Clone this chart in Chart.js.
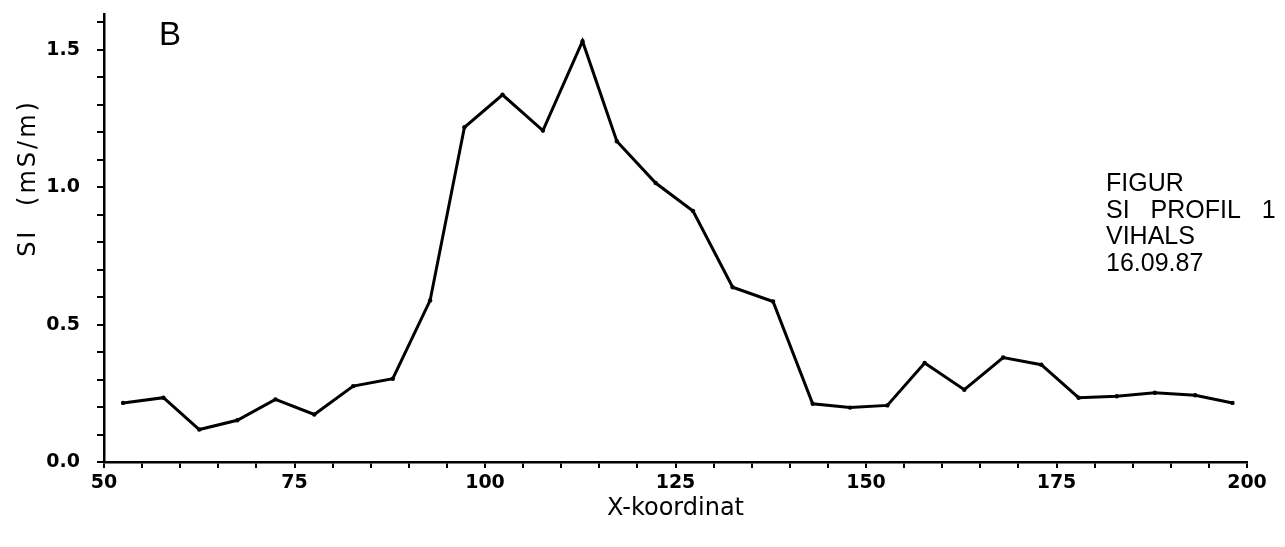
<!DOCTYPE html>
<html>
<head>
<meta charset="utf-8">
<script src="https://cdn.jsdelivr.net/npm/chart.js@4.4.0/dist/chart.umd.min.js"></script>
<style>
  html, body { margin: 0; padding: 0; background: #ffffff; }
  #wrap { width: 1285px; height: 547px; }
</style>
</head>
<body>
<div id="wrap"><canvas id="c" width="1285" height="547"></canvas></div>
<script>
// ---- data ----
const xCoord = [52.5, 57.8, 62.5, 67.5, 72.5, 77.6, 82.7, 87.9, 92.8, 97.3,
                102.3, 107.6, 112.8, 117.3, 122.4, 127.3, 132.5, 137.8, 143.0, 147.9,
                152.8, 157.7, 162.9, 168.0, 173.0, 177.9, 182.9, 187.9, 193.2, 198.1];
const siValues = [0.215, 0.234, 0.118, 0.152, 0.228, 0.173, 0.276, 0.303, 0.588, 1.218,
                  1.336, 1.206, 1.531, 1.167, 1.015, 0.913, 0.636, 0.584, 0.212, 0.198,
                  0.206, 0.360, 0.263, 0.380, 0.354, 0.234, 0.239, 0.252, 0.243, 0.215];
const xMajorTicks = [50, 75, 100, 125, 150, 175, 200];
const yMajorTicks = ['0.0', '0.5', '1.0', '1.5'];
const panelLetter = 'B';
const yTitle = 'SI (mS/m)';
const xTitle = 'X-koordinat';
const noteLines = ['FIGUR', 'SI PROFIL 1', 'VIHALS', '16.09.87'];

const points = xCoord.map((x, i) => ({ x: x, y: siValues[i] }));

const textPlugin = {
  id: 'textPlugin',
  afterDraw(chart) {
    const ctx = chart.ctx;
    ctx.save();
    ctx.fillStyle = '#000';
    // panel letter
    ctx.font = '33px "Liberation Sans", Arial, sans-serif';
    ctx.textAlign = 'left';
    ctx.textBaseline = 'alphabetic';
    ctx.fillText(panelLetter, 159, 45);
    // note block
    ctx.font = '25px "Liberation Sans", Arial, sans-serif';
    try { ctx.wordSpacing = '14px'; } catch (e) {}
    noteLines.forEach((t, i) => ctx.fillText(t, 1106, 191 + i * 26.5));
    try { ctx.wordSpacing = '0px'; } catch (e) {}
    // y title
    ctx.translate(29, 178);
    ctx.rotate(-Math.PI / 2);
    ctx.textAlign = 'center';
    ctx.textBaseline = 'middle';
    ctx.font = '24px "DejaVu Sans", sans-serif';
    try { ctx.letterSpacing = '3px'; ctx.wordSpacing = '12px'; } catch (e) {}
    ctx.fillText(yTitle, 0, 0);
    ctx.restore();
  }
};

new Chart(document.getElementById('c'), {
  type: 'line',
  data: {
    datasets: [{
      data: points,
      borderColor: '#000',
      backgroundColor: '#000',
      borderWidth: 3,
      pointRadius: 2.2,
      pointBorderWidth: 0,
      tension: 0,
      fill: false
    }]
  },
  options: {
    responsive: false,
    animation: false,
    devicePixelRatio: 1,
    layout: { padding: { top: 14, right: 38, left: 0, bottom: 24 } },
    plugins: { legend: { display: false }, tooltip: { enabled: false } },
    scales: {
      x: {
        type: 'linear',
        min: 50, max: 200,
        afterFit: (s) => { s.height = 61; },
        border: { display: true, color: '#000', width: 2.5 },
        grid: { display: true, drawOnChartArea: false, drawTicks: true, tickLength: 6, color: '#000', lineWidth: 2 },
        ticks: {
          stepSize: 5, autoSkip: false, maxRotation: 0, color: '#000', padding: 4,
          font: { family: '"DejaVu Sans", sans-serif', size: 19, weight: 'bold' },
          callback: (v) => xMajorTicks.includes(Math.round(v)) ? String(Math.round(v)) : ''
        },
        title: {
          display: true, text: xTitle, color: '#000',
          font: { family: '"DejaVu Sans", sans-serif', size: 24 },
          padding: { top: 0, bottom: 0 }
        }
      },
      y: {
        type: 'linear',
        min: 0, max: 1.63,
        afterFit: (s) => { s.width = 104; s.paddingTop = 0; s.paddingBottom = 0; },
        border: { display: true, color: '#000', width: 2.5 },
        grid: { display: true, drawOnChartArea: false, drawTicks: true, tickLength: 7, color: '#000', lineWidth: 2 },
        ticks: {
          stepSize: 0.1, includeBounds: false, autoSkip: false, color: '#000', padding: 17,
          font: { family: '"DejaVu Sans", sans-serif', size: 19, weight: 'bold' },
          callback: (v) => {
            const s = (Math.round(v * 10) / 10).toFixed(1);
            return yMajorTicks.includes(s) ? s : '';
          }
        }
      }
    }
  },
  plugins: [textPlugin]
});
</script>
</body>
</html>
